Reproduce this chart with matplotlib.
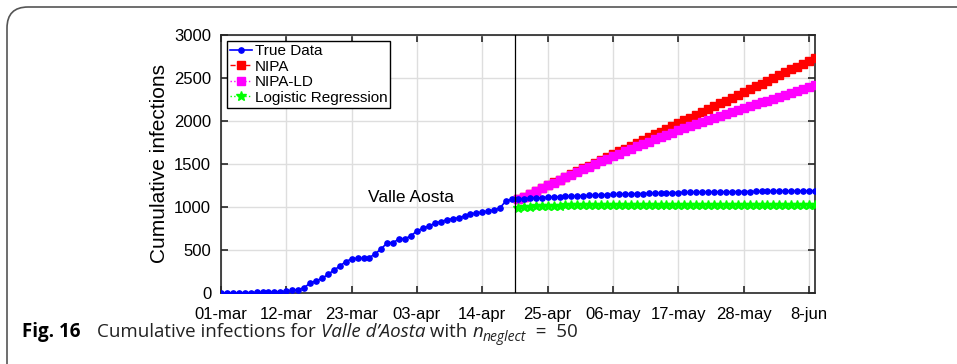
import numpy as np
import matplotlib
matplotlib.use('Agg')
import matplotlib.pyplot as plt
from matplotlib.patches import FancyBboxPatch

plt.rcParams['font.family'] = ['Liberation Sans', 'DejaVu Sans']

# ----------- data -----------
# true data, one value per day from 01-mar (day 0) to day 100
true_data = [0, 0, 1, 2, 3, 5, 7, 9, 11, 13, 16, 19,
             31, 38, 62, 115, 142, 169, 215, 265, 312, 365, 396, 404,
             404, 412, 458, 515, 585, 585, 631, 631, 665, 723, 750, 781,
             808, 831, 850, 865, 873, 896, 923, 927, 942, 954, 965, 992,
             1073, 1088,
             1092, 1097, 1101, 1105, 1109, 1113,
             1116, 1119, 1122, 1125, 1128, 1131, 1134, 1137, 1140, 1143, 1146,
             1148, 1150, 1152, 1154, 1156, 1158, 1160, 1162, 1164, 1166, 1168,
             1169, 1170, 1171, 1172, 1173, 1174, 1175, 1176, 1177, 1178, 1179,
             1180, 1181, 1181, 1182, 1183, 1184, 1185, 1185, 1186, 1187, 1188, 1189]

# predictions, day 50 .. day 100
nipa = [1088, 1120, 1153, 1186, 1219, 1252, 1285, 1318, 1350, 1383, 1416, 1449,
        1482, 1515, 1548, 1580, 1613,
        1646, 1679, 1712, 1745, 1778, 1810, 1843, 1876, 1909, 1942, 1975,
        2008, 2040, 2073, 2106, 2139, 2172, 2205, 2238, 2270, 2303, 2336,
        2369, 2402, 2435, 2468, 2500, 2533, 2566, 2599, 2632, 2665, 2698, 2732]

nipa_ld = [1088, 1121, 1154, 1187, 1219, 1251, 1283, 1315, 1346, 1377, 1408, 1439,
           1470, 1500, 1530, 1560, 1590,
           1619, 1648, 1676, 1704, 1732, 1759, 1786, 1813, 1839, 1865, 1890,
           1915, 1940, 1964, 1988, 2012, 2036, 2059, 2082, 2105, 2128, 2150,
           2172, 2194, 2216, 2238, 2260, 2282, 2304, 2326, 2349, 2372, 2395, 2417]

logistic = [993, 1000, 1005, 1009, 1012, 1014, 1016, 1017, 1018, 1019, 1020, 1021,
            1021, 1022, 1022, 1023, 1023, 1024, 1024, 1024, 1024, 1024, 1024, 1025,
            1025, 1025, 1025, 1025, 1025, 1025, 1025, 1025, 1025, 1025, 1025, 1025,
            1025, 1025, 1025, 1025, 1025, 1025, 1025, 1025, 1025, 1025, 1025, 1025,
            1025, 1025, 1025]

tick_days = [0, 11, 22, 33, 44, 55, 66, 77, 88, 99]
tick_labels = ['01-mar', '12-mar', '23-mar', '03-apr', '14-apr',
               '25-apr', '06-may', '17-may', '28-may', '8-jun']
split_day = 49.5
# ----------- end data -----------

days_true = np.arange(len(true_data))
days_pred = np.arange(50, 50 + len(nipa))

fig = plt.figure(figsize=(9.57, 3.64), dpi=100)
ax = fig.add_axes([0.2309, 0.1951, 0.6207, 0.7088])

ax.plot(days_true, true_data, color='blue', marker='o', markersize=3.8, linewidth=1.2,
        linestyle='-', label='True Data', zorder=4)
ax.plot(days_pred, nipa, color='red', marker='s', markersize=5.5, linewidth=1,
        linestyle='--', label='NIPA', zorder=3)
ax.plot(days_pred, nipa_ld, color='magenta', marker='s', markersize=5.5, linewidth=1,
        linestyle=':', label='NIPA-LD', zorder=3)
ax.plot(days_pred, logistic, color='#00ff00', marker='*', markersize=7, linewidth=1,
        linestyle=':', label='Logistic Regression', zorder=3)
ax.axvline(split_day, color='black', linewidth=0.9, zorder=5)

ax.text(32, 1110, 'Valle Aosta', fontsize=12.5, ha='center', va='center')

ax.set_xlim(0, 100)
ax.set_ylim(0, 3000)
ax.set_xticks(tick_days)
ax.set_xticklabels(tick_labels, fontsize=12)
ax.set_yticks(np.arange(0, 3001, 500))
ax.tick_params(axis='y', labelsize=12, pad=7)
ax.tick_params(axis='x', pad=10)
ax.tick_params(direction='in', top=True, right=True, length=5, width=1.2, color='#262626')
ax.grid(True, color='#dedede', linewidth=1)
ax.set_axisbelow(True)
for s in ax.spines.values():
    s.set_color('#262626')
    s.set_linewidth(1.2)
ax.set_ylabel('Cumulative infections', fontsize=15, labelpad=4)

leg = ax.legend(loc='upper left', fontsize=11, handlelength=1.4, handletextpad=0.2,
                borderpad=0.2, labelspacing=0.1, fancybox=False, framealpha=1,
                borderaxespad=0.4)
leg.get_frame().set_edgecolor('black')
leg.get_frame().set_linewidth(1)

# frame round the figure (left and top only, rounded corner)
frame = FancyBboxPatch((7 / 957, -0.2), 1.2, (364 - 7) / 364 + 0.2,
                       boxstyle='round,pad=0,rounding_size=0.022',
                       transform=fig.transFigure, fill=False,
                       edgecolor='#555555', linewidth=1.2, mutation_aspect=957 / 364)
fig.patches.append(frame)

# caption, built from pieces placed one after the other
cap_y = 1 - 337 / 364
fig.text(22 / 957, cap_y, 'Fig. 16', fontsize=13.5, fontweight='bold',
         family='Open Sans', va='baseline', ha='left')
renderer = fig.canvas.get_renderer()
pieces = [("Cumulative infections for ", 'normal', 13.5, 0),
          ("Valle d\u2019Aosta", 'italic', 13.5, 0),
          (" with ", 'normal', 13.5, 0),
          ("n", 'italic', 13.5, 0),
          ("neglect", 'italic', 10, -4),
          ("  =  50", 'normal', 13.5, 0)]
x_px = 97
for txt, style, size, dy in pieces:
    t = fig.text(x_px / 957, cap_y + dy / 364, txt, fontsize=size, style=style,
                 family='Open Sans', va='baseline', ha='left', color='#222222')
    x_px = t.get_window_extent(renderer).x1

fig.savefig('out.png', dpi=100)
